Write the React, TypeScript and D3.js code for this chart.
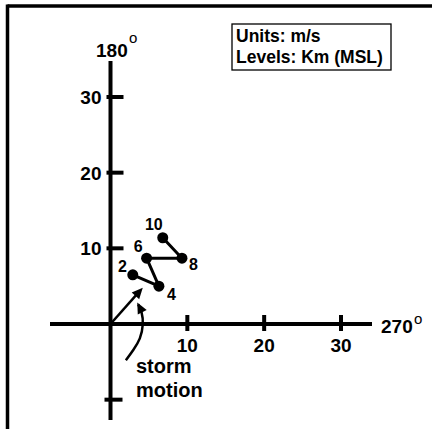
import React from "react";
import * as d3 from "d3";

const levels = ["2", "4", "6", "8", "10"];
const uWind = [2.9, 6.3, 4.7, 9.3, 6.8];
const vWind = [6.5, 5.0, 8.7, 8.7, 11.4];
const xTicks = [10, 20, 30];
const yTicks = [10, 20, 30];
const negTick = [-10];
const stormMotion = [4.2, 4.8];
const curveU = [2.0, 3.0, 3.9, 4.3, 4.1, 3.6];
const curveV = [-4.8, -3.4, -2.0, 0.0, 1.6, 2.6];
const legendLines = ["Units: m/s", "Levels: Km (MSL)"];
const annotation = ["storm", "motion"];

const W = 432;
const H = 429;

export default function App() {
  const x = d3.scaleLinear().domain([0, 30]).range([110.5, 341]);
  const y = d3.scaleLinear().domain([0, 30]).range([324, 97]);
  const font = "'Liberation Sans', Arial, Helvetica, sans-serif";
  const line = d3.line<number>().x((i) => x(uWind[i])).y((i) => y(vWind[i]));
  const curve = d3
    .line<number>()
    .x((i) => x(curveU[i]))
    .y((i) => y(curveV[i]))
    .curve(d3.curveBasis);
  const idx = uWind.map((_, i) => i);
  const cidx = curveU.map((_, i) => i);
  const labelOff: [number, number, string][] = [
    [-6, -3, "end"],
    [8, 14, "start"],
    [-4, -6, "end"],
    [7, 12, "start"],
    [0, -8, "end"],
  ];
  const sx = x(stormMotion[0]);
  const sy = y(stormMotion[1]);
  const ox = x(0);
  const oy = y(0);
  const ang = Math.atan2(sy - oy, sx - ox);
  const ah = 11;
  const aw = 5;
  const headPts = (tx: number, ty: number, a: number) =>
    [
      [tx, ty],
      [tx - ah * Math.cos(a) + aw * Math.sin(a), ty - ah * Math.sin(a) - aw * Math.cos(a)],
      [tx - ah * Math.cos(a) - aw * Math.sin(a), ty - ah * Math.sin(a) + aw * Math.cos(a)],
    ]
      .map((p) => p.join(","))
      .join(" ");
  const n = curveU.length;
  const cx1 = x(curveU[n - 2]);
  const cy1 = y(curveV[n - 2]);
  const cx2 = x(curveU[n - 1]);
  const cy2 = y(curveV[n - 1]);
  const cang = Math.atan2(cy2 - cy1, cx2 - cx1);

  return (
    <svg width={W} height={H} style={{ position: "absolute", left: 0, top: 0, background: "#fff" }}>
      <rect x={0} y={0} width={W} height={H} fill="#fff" />
      <line x1={7.5} y1={6} x2={W} y2={6} stroke="#000" strokeWidth={3.5} />
      <line x1={7.5} y1={4.5} x2={7.5} y2={H} stroke="#000" strokeWidth={3.5} />

      <line x1={50} y1={y(0)} x2={372} y2={y(0)} stroke="#000" strokeWidth={4} />
      <line x1={x(0)} y1={61} x2={x(0)} y2={420} stroke="#000" strokeWidth={4} />

      {xTicks.map((t) => (
        <g key={"x" + t}>
          <line x1={x(t)} x2={x(t)} y1={y(0) - 9} y2={y(0) + 7} stroke="#000" strokeWidth={4} />
          <text x={x(t)} y={y(0) + 28} textAnchor="middle" fontFamily={font} fontWeight="bold" fontSize={19}>
            {t}
          </text>
        </g>
      ))}
      {yTicks.map((t) => (
        <g key={"y" + t}>
          <line x1={x(0) - 4} x2={x(0) + 13} y1={y(t)} y2={y(t)} stroke="#000" strokeWidth={4} />
          <text x={x(0) - 9} y={y(t) + 7} textAnchor="end" fontFamily={font} fontWeight="bold" fontSize={19}>
            {t}
          </text>
        </g>
      ))}
      {negTick.map((t) => (
        <line key={"n" + t} x1={x(0) - 6} x2={x(0) + 12} y1={y(t)} y2={y(t)} stroke="#000" strokeWidth={4} />
      ))}

      <text x={96} y={57} fontFamily={font} fontWeight="bold" fontSize={19}>
        180
      </text>
      <text x={129} y={43} fontFamily={font} fontSize={15}>
        o
      </text>
      <text x={381} y={y(0) + 9} fontFamily={font} fontWeight="bold" fontSize={19}>
        270
      </text>
      <text x={414} y={y(0)} fontFamily={font} fontSize={15}>
        o
      </text>

      <rect x={232} y={24} width={159} height={46} fill="#fff" stroke="#000" strokeWidth={1.3} />
      {legendLines.map((s, i) => (
        <text key={s} x={236} y={42 + i * 21} fontFamily={font} fontWeight="bold" fontSize={17.5}>
          {s}
        </text>
      ))}

      <path d={line(idx) || ""} fill="none" stroke="#000" strokeWidth={3} strokeLinejoin="round" />
      {idx.map((i) => (
        <circle key={"c" + i} cx={x(uWind[i])} cy={y(vWind[i])} r={5.5} fill="#000" />
      ))}
      {idx.map((i) => (
        <text
          key={"l" + i}
          x={x(uWind[i]) + labelOff[i][0]}
          y={y(vWind[i]) + labelOff[i][1]}
          textAnchor={labelOff[i][2]}
          fontFamily={font}
          fontWeight="bold"
          fontSize={16}
        >
          {levels[i]}
        </text>
      ))}

      <line
        x1={ox}
        y1={oy}
        x2={sx - 8 * Math.cos(ang)}
        y2={sy - 8 * Math.sin(ang)}
        stroke="#000"
        strokeWidth={2.5}
      />
      <polygon points={headPts(sx, sy, ang)} fill="#000" />

      <path d={curve(cidx) || ""} fill="none" stroke="#000" strokeWidth={2.5} />
      <polygon points={headPts(cx2 + 2 * Math.cos(cang), cy2 + 2 * Math.sin(cang), cang)} fill="#000" />
      {annotation.map((s, i) => (
        <text key={s} x={136} y={373 + i * 24} fontFamily={font} fontWeight="bold" fontSize={20}>
          {s}
        </text>
      ))}
    </svg>
  );
}
